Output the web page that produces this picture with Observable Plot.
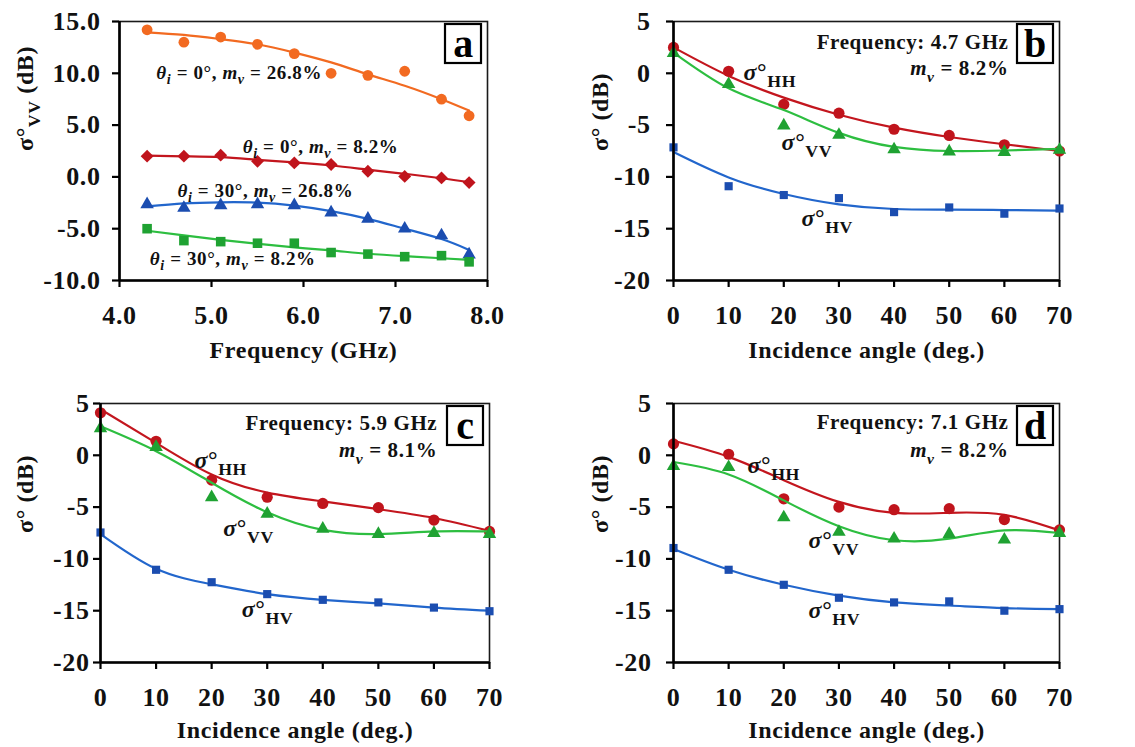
<!DOCTYPE html>
<html><head><meta charset="utf-8">
<script src="https://cdn.jsdelivr.net/npm/d3@7"></script>
<script src="https://cdn.jsdelivr.net/npm/@observablehq/plot@0.6"></script>
<style>
body{margin:0;background:#fff;}
#wrap{position:relative;width:1135px;height:747px;overflow:hidden;background:#fff;}
#wrap > svg{position:absolute;overflow:visible;}
#wrap svg text{letter-spacing:0.6px;}
</style></head><body><div id="wrap"></div>
<script>
// ---------- Panel a: sigma°VV vs frequency ----------
const freqGHz = [4.3, 4.7, 5.1, 5.5, 5.9, 6.3, 6.7, 7.1, 7.5, 7.8];
const a_0deg_268 = [14.2, 13.0, 13.5, 12.8, 11.9, 10.0, 9.8, 10.2, 7.5, 5.9];
const a_0deg_268_fit = [13.95, 13.7, 13.3, 12.8, 12.0, 11.05, 9.9, 8.8, 7.5, 6.4];
const a_0deg_82 = [2.0, 2.0, 2.1, 1.5, 1.35, 1.2, 0.55, 0.05, -0.1, -0.55];
const a_0deg_82_fit = [2.05, 1.98, 1.9, 1.65, 1.4, 1.1, 0.7, 0.3, -0.13, -0.5];
const a_30deg_268 = [-2.65, -3.0, -2.75, -2.65, -2.75, -3.45, -4.05, -5.0, -5.65, -7.5];
const a_30deg_268_fit = [-2.85, -2.55, -2.45, -2.48, -2.77, -3.3, -4.05, -5.0, -6.0, -7.05];
const a_30deg_82 = [-5.0, -6.15, -6.25, -6.4, -6.4, -7.3, -7.45, -7.7, -7.6, -8.2];
const a_30deg_82_fit = [-5.2, -5.65, -6.08, -6.45, -6.8, -7.1, -7.42, -7.65, -7.85, -8.0];

// ---------- Panels b-d: sigma° vs incidence angle ----------
const angleDeg = [0, 10, 20, 30, 40, 50, 60, 70];
const b_HH = [2.5, 0.2, -3.0, -3.85, -5.4, -6.0, -6.9, -7.5];
const b_HH_fit = [2.5, -0.25, -2.35, -4.0, -5.25, -6.15, -6.85, -7.5];
const b_VV = [1.95, -1.05, -5.05, -5.95, -7.35, -7.55, -7.6, -7.4];
const b_VV_fit = [2.0, -1.45, -3.55, -5.75, -7.1, -7.5, -7.45, -7.3];
const b_HV = [-7.15, -10.9, -11.75, -12.05, -13.4, -12.95, -13.55, -13.05];
const b_HV_fit = [-7.6, -10.05, -11.65, -12.65, -13.1, -13.15, -13.2, -13.25];

const c_HH = [4.1, 1.35, -2.4, -4.05, -4.65, -5.05, -6.25, -7.35];
const c_HH_fit = [4.45, 1.2, -1.85, -3.6, -4.45, -5.2, -6.05, -7.3];
const c_VV = [2.6, 0.8, -4.05, -5.65, -7.1, -7.6, -7.5, -7.6];
const c_VV_fit = [2.8, 0.4, -2.65, -5.5, -7.2, -7.6, -7.35, -7.35];
const c_HV = [-7.45, -11.05, -12.25, -13.4, -13.95, -14.2, -14.7, -15.05];
const c_HV_fit = [-7.6, -10.95, -12.45, -13.4, -13.95, -14.3, -14.7, -15.0];

const d_HH = [1.1, 0.1, -4.2, -5.0, -5.25, -5.15, -6.2, -7.2];
const d_HH_fit = [1.4, -0.15, -2.4, -4.5, -5.55, -5.55, -5.75, -7.25];
const d_VV = [-1.05, -1.15, -6.0, -7.4, -8.05, -7.6, -8.15, -7.5];
const d_VV_fit = [-0.65, -1.85, -4.35, -6.85, -8.2, -8.05, -7.25, -7.5];
const d_HV = [-8.95, -11.05, -12.5, -13.75, -14.2, -14.1, -15.0, -14.85];
const d_HV_fit = [-9.05, -11.05, -12.5, -13.55, -14.2, -14.5, -14.75, -14.85];

// ---------- ticks ----------
const freqTicks = [4, 5, 6, 7, 8];
const sigmaTicksA = [-10, -5, 0, 5, 10, 15];
const angleTicks = [0, 10, 20, 30, 40, 50, 60, 70];
const sigmaTicks = [-20, -15, -10, -5, 0, 5];

// ---------- labels (markup: {i:..} italic, {is:..} italic subscript, {sb:..} bold subscript, {s:..} subscript) ----------
const labelsA = [
  {x: 4.40, y: 10.08, label: "{i:θ}{is:i} = 0°, {i:m}{is:v} = 26.8%"},
  {x: 5.34, y: 2.93, label: "{i:θ}{is:i} = 0°, {i:m}{is:v} = 8.2%"},
  {x: 4.63, y: -1.31, label: "{i:θ}{is:i} = 30°, {i:m}{is:v} = 26.8%"},
  {x: 4.33, y: -7.88, label: "{i:θ}{is:i} = 30°, {i:m}{is:v} = 8.2%"}
];
const labelsB = [
  {x: 12.7, y: 0.08, label: "{i:σ}°{sb:HH}"},
  {x: 19.6, y: -6.68, label: "{i:σ}°{sb:VV}"},
  {x: 23.2, y: -14.0, label: "{i:σ}°{sb:HV}"}
];
const infoB = [{x: 60.75, y: 2.97, label: "Frequency: 4.7 GHz"}, {x: 60.75, y: 0.46, label: "{i:m}{is:v} = 8.2%"}];
const labelsC = [
  {x: 16.9, y: -0.5, label: "{i:σ}°{sb:HH}"},
  {x: 22.1, y: -7.07, label: "{i:σ}°{sb:VV}"},
  {x: 25.4, y: -14.88, label: "{i:σ}°{sb:HV}"}
];
const infoC = [{x: 60.6, y: 3.07, label: "Frequency: 5.9 GHz"}, {x: 60.6, y: 0.46, label: "{i:m}{is:v} = 8.1%"}];
const labelsD = [
  {x: 13.4, y: -0.98, label: "{i:σ}°{sb:HH}"},
  {x: 24.5, y: -8.22, label: "{i:σ}°{sb:VV}"},
  {x: 24.5, y: -14.98, label: "{i:σ}°{sb:HV}"}
];
const infoD = [{x: 60.75, y: 3.17, label: "Frequency: 7.1 GHz"}, {x: 60.75, y: 0.46, label: "{i:m}{is:v} = 8.2%"}];

const C = {
  orange: ["#F26A21", "#F26A21"],
  red: ["#C3161E", "#C0141C"],
  blue: ["#2266CC", "#1B4DB0"],
  green: ["#2DBE40", "#1FA232"]
};

// ---------- markup helpers ----------
const RICH = new Map();
function parse(markup) {
  const segs = [];
  const re = /\{(\w+):([^}]*)\}|([^{]+)/g;
  let m;
  while ((m = re.exec(markup))) {
    if (m[3] !== undefined) segs.push({t: m[3], f: ""});
    else segs.push({t: m[2], f: m[1]});
  }
  return segs;
}
function plain(markup) {
  const segs = parse(markup);
  const p = segs.map(s => s.t).join("");
  if (segs.some(s => s.f)) RICH.set(p, segs);
  return p;
}
function richify(svg) {
  d3.select(svg).selectAll("text").each(function () {
    const segs = RICH.get(this.textContent);
    if (!segs) return;
    const fs = parseFloat(getComputedStyle(this).fontSize);
    const sel = d3.select(this);
    sel.text(null);
    let shift = 0;
    for (const s of segs) {
      const sub = s.f.includes("s");
      const target = sub ? fs * 0.3 : 0;
      const ts = sel.append("tspan").text(s.t);
      if (target - shift !== 0) ts.attr("dy", target - shift);
      shift = target;
      if (sub) ts.attr("font-size", fs * 0.74);
      if (s.f.includes("i")) ts.attr("font-style", "italic");
      if (s.f.includes("b")) ts.attr("font-weight", "bold");
    }
  });
}

const SERIF = "'Liberation Serif', 'DejaVu Serif', serif";
const wrap = document.getElementById("wrap");

function panel(cfg) {
  const {left, top, width, height, m, xDomain, yDomain, xTicks, yTicks, xFmt, yFmt, series,
         labels, labelSize, info, xTitle, yTitle, yTitleDx, xTitleDy, yTickPad, letter} = cfg;
  const marks = [Plot.frame({stroke: "#1a1a1a", strokeWidth: 1.6})];
  for (const s of series) {
    const pts = s.x.map((xv, i) => ({x: xv, y: s.y[i]}));
    const fit = s.x.map((xv, i) => ({x: xv, y: s.fit[i]}));
    marks.push(Plot.line(fit, {x: "x", y: "y", stroke: s.color[0], strokeWidth: 2.2, curve: "natural"}));
    marks.push(Plot.dot(pts, {x: "x", y: "y", symbol: s.symbol, r: s.r, fill: s.color[1], stroke: "none"}));
  }
  marks.push(
    Plot.ruleX([xDomain[0]], {stroke: "#000", strokeWidth: 2.6}),
    Plot.ruleY([yDomain[0]], {stroke: "#000", strokeWidth: 2.6}),
    Plot.axisX(xTicks, {tickSize: 7, tickPadding: 18, tickFormat: xFmt, strokeWidth: 2.2, label: null, fontSize: 26, fontWeight: "bold", fill: "#111"}),
    Plot.axisY(yTicks, {tickSize: 7, tickPadding: yTickPad, tickFormat: yFmt, strokeWidth: 2.2, label: null, fontSize: 26, fontWeight: "bold", fill: "#111"}),
    Plot.text(labels, {x: "x", y: "y", text: d => plain(d.label), textAnchor: "start", lineAnchor: "middle", fontSize: labelSize, fontWeight: "bold", fill: "#111"}),
    Plot.text([xTitle], {frameAnchor: "bottom", text: d => d, dy: xTitleDy, lineAnchor: "middle", fontSize: 24, fill: "#111", fontWeight: "bold"}),
    Plot.text([yTitle], {frameAnchor: "left", text: d => plain(d), dx: yTitleDx, rotate: -90, lineAnchor: "middle", fontSize: 24, fill: "#111", fontWeight: "bold"}),
    Plot.text([letter], {frameAnchor: "top-right", text: d => d, dx: -24, dy: 23, textAnchor: "middle", lineAnchor: "middle", fontSize: 40, fontWeight: "bold", fill: "#000"})
  );
  if (info) marks.push(Plot.text(info, {x: "x", y: "y", text: d => plain(d.label), textAnchor: "end", lineAnchor: "middle", fontSize: 21, fill: "#111", fontWeight: "bold"}));
  const svg = Plot.plot({
    width, height,
    marginLeft: m.l, marginRight: m.r, marginTop: m.t, marginBottom: m.b,
    x: {domain: xDomain, label: null},
    y: {domain: yDomain, label: null},
    style: {fontFamily: SERIF, fontSize: "25px", background: "transparent", overflow: "visible"},
    marks
  });
  svg.style.left = left + "px";
  svg.style.top = top + "px";
  wrap.appendChild(svg);
  richify(svg);
  // box around the panel letter
  const fr = width - m.r;
  d3.select(svg).append("rect")
    .attr("x", fr - 42).attr("y", m.t + 3).attr("width", 36).attr("height", 39)
    .attr("fill", "none").attr("stroke", "#000").attr("stroke-width", 2.2);
}

const ser = (x, y, fit, color, symbol, r) => ({x, y, fit, color, symbol, r});
const fmt1 = d => d.toFixed(1);
const fmt0 = d => String(d);
const angTitle = "Incidence angle (deg.)";
const sigTitle = "σ° (dB)";

panel({left: 0, top: 0, width: 567, height: 377, m: {l: 119, r: 80, t: 21, b: 97},
  xDomain: [4, 8], yDomain: [-10, 15], xTicks: freqTicks, yTicks: sigmaTicksA, xFmt: fmt1, yFmt: fmt1,
  series: [
    ser(freqGHz, a_0deg_268, a_0deg_268_fit, C.orange, "circle", 5.4),
    ser(freqGHz, a_0deg_82, a_0deg_82_fit, C.red, "diamond2", 5.8),
    ser(freqGHz, a_30deg_268, a_30deg_268_fit, C.blue, "triangle", 5.0),
    ser(freqGHz, a_30deg_82, a_30deg_82_fit, C.green, "square", 5.4)
  ],
  labels: labelsA, labelSize: 19, xTitle: "Frequency (GHz)", yTitle: "σ°{s:VV} (dB)",
  yTitleDx: -94, xTitleDy: 70, yTickPad: 12, letter: "a"});

panel({left: 567, top: 0, width: 568, height: 377, m: {l: 106, r: 76, t: 21, b: 97},
  xDomain: [0, 70], yDomain: [-20, 5], xTicks: angleTicks, yTicks: sigmaTicks, xFmt: fmt0, yFmt: fmt0,
  series: [
    ser(angleDeg, b_HH, b_HH_fit, C.red, "circle", 5.6),
    ser(angleDeg, b_VV, b_VV_fit, C.green, "triangle", 5.0),
    ser(angleDeg, b_HV, b_HV_fit, C.blue, "square", 4.6)
  ],
  labels: labelsB, labelSize: 24, info: infoB, xTitle: angTitle, yTitle: sigTitle,
  yTitleDx: -73, xTitleDy: 70, yTickPad: 16, letter: "b"});

panel({left: 0, top: 377, width: 567, height: 370, m: {l: 100, r: 78, t: 26, b: 85},
  xDomain: [0, 70], yDomain: [-20, 5], xTicks: angleTicks, yTicks: sigmaTicks, xFmt: fmt0, yFmt: fmt0,
  series: [
    ser(angleDeg, c_HH, c_HH_fit, C.red, "circle", 5.6),
    ser(angleDeg, c_VV, c_VV_fit, C.green, "triangle", 5.0),
    ser(angleDeg, c_HV, c_HV_fit, C.blue, "square", 4.6)
  ],
  labels: labelsC, labelSize: 24, info: infoC, xTitle: angTitle, yTitle: sigTitle,
  yTitleDx: -75, xTitleDy: 68, yTickPad: 4, letter: "c"});

panel({left: 567, top: 377, width: 568, height: 370, m: {l: 106, r: 76, t: 26, b: 85},
  xDomain: [0, 70], yDomain: [-20, 5], xTicks: angleTicks, yTicks: sigmaTicks, xFmt: fmt0, yFmt: fmt0,
  series: [
    ser(angleDeg, d_HH, d_HH_fit, C.red, "circle", 5.6),
    ser(angleDeg, d_VV, d_VV_fit, C.green, "triangle", 5.0),
    ser(angleDeg, d_HV, d_HV_fit, C.blue, "square", 4.6)
  ],
  labels: labelsD, labelSize: 24, info: infoD, xTitle: angTitle, yTitle: sigTitle,
  yTitleDx: -73, xTitleDy: 68, yTickPad: 15, letter: "d"});
</script></body></html>
